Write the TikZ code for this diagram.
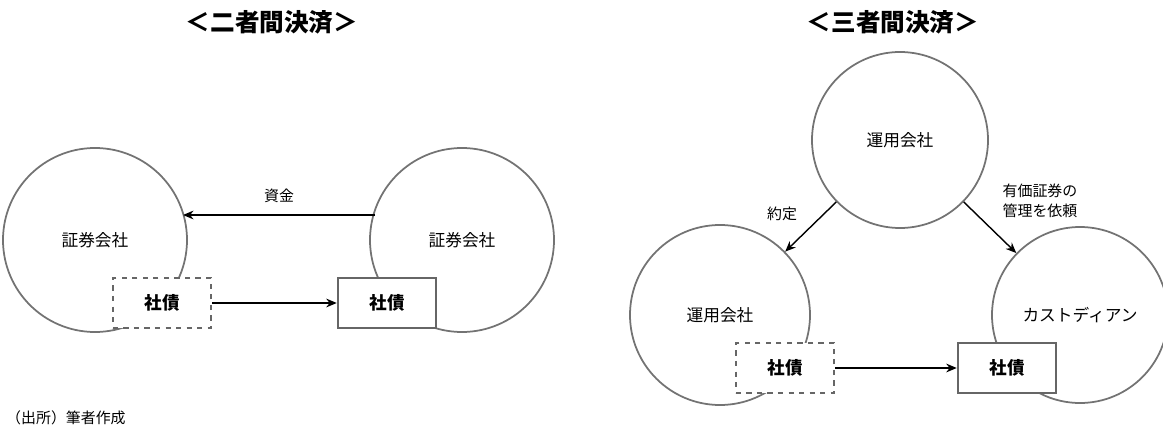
\documentclass[tikz,border=0pt]{standalone}
\usepackage{fontspec}
\setmainfont{Noto Sans CJK JP}
\usetikzlibrary{arrows.meta,positioning}
\tikzset{
  party/.style={circle, draw=black!55, line width=1pt, fill=none, inner sep=0pt, font=\fontsize{9.5}{11}\selectfont},
  bond/.style={rectangle, draw=black!60, line width=1.2pt, fill=white, minimum width=56pt, minimum height=28pt, font=\bfseries\fontsize{10}{12}\selectfont},
  proxy/.style={bond, dashed},
  flow/.style={-{Stealth[length=6pt,width=5pt]}, line width=0.8pt},
  hdr/.style={font=\bfseries\fontsize{14}{16}\selectfont},
  lbl/.style={font=\fontsize{8.5}{11}\selectfont, align=center}
}
\begin{document}
\begin{tikzpicture}[x=0.02cm,y=-0.02cm]
  \useasboundingbox (0,0) rectangle (1163,429);
  % titles
  \node[hdr] (t2) at (272,22) {＜二者間決済＞};
  \node[hdr] (t3) at (893,22) {＜三者間決済＞};

  % bilateral
  \node[party, minimum size=184*0.02cm] (secA) at (95,240) {証券会社};
  \node[party, minimum size=184*0.02cm] (secB) at (462,240) {証券会社};
  \node[proxy] (bondA) at (162,303) {社債};
  \node[bond] (bondB) at (387,303) {社債};
  \coordinate (cashS) at (375,215);
  \coordinate (cashE) at (183,215);
  \draw[flow] (cashS) -- node[lbl, above=3pt] {資金} (cashE);
  \draw[flow] (bondA) -- (bondB);

  % tripartite
  \node[party, minimum size=176*0.02cm] (mgr) at (900,140) {運用会社};
  \node[party, minimum size=180*0.02cm] (mgrL) at (720,315) {運用会社};
  \node[party, minimum size=176*0.02cm] (cust) at (1080,315) {カストディアン};
  \node[proxy] (bondC) at (785,368) {社債};
  \node[bond] (bondD) at (1007,368) {社債};
  \draw[flow] (mgr) -- (mgrL);
  \draw[flow] (mgr) -- (cust);
  \draw[flow] (bondC) -- (bondD);
  \node[lbl] (deal) at (782,214) {約定};
  \node[lbl] (req) at (1040,201) {有価証券の\\管理を依頼};

  % source
  \node[lbl, anchor=west] (src) at (0,418) {（出所）筆者作成};
\end{tikzpicture}
\end{document}
